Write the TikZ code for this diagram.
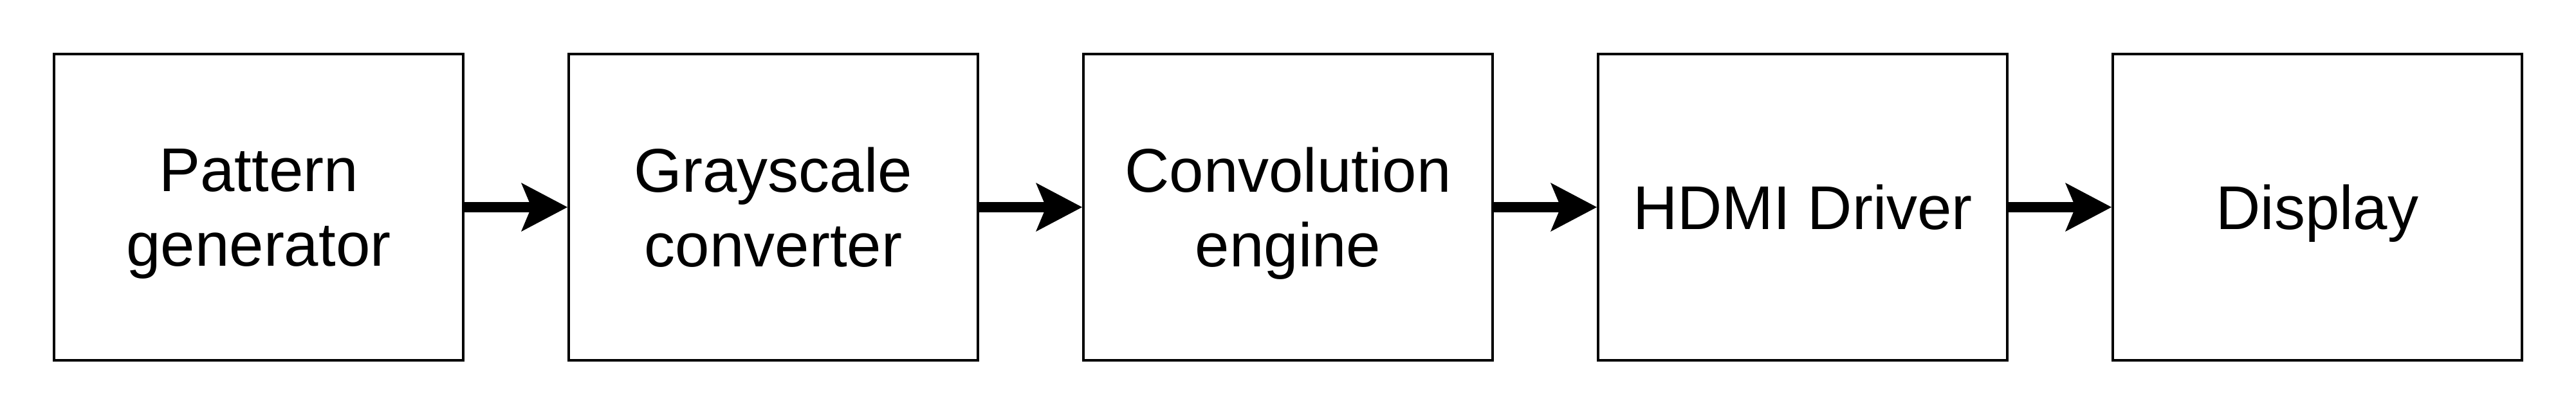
\documentclass[tikz,border=0pt]{standalone}
\usepackage{fontspec}
\setmainfont{Liberation Sans}
\usetikzlibrary{positioning,arrows.meta}

\begin{document}
\begin{tikzpicture}[node distance={40pt}]
	\tikzstyle{blk}=[draw, line width=1pt, minimum width=159pt, minimum height=119pt, align=center, text depth=0pt, font=\fontsize{24}{29}\selectfont]
	\tikzstyle{arr}=[line width=4pt, -{Stealth[length=18pt, width=19pt, inset=4pt, line width=0pt]}]

	\useasboundingbox (0,0) rectangle (1001pt,161pt);

	\node[blk] (pat) at (100.5pt,80.5pt) {Pattern\\generator};
	\node[blk] (gray) [right=of pat] {Grayscale\\converter};
	\node[blk] (conv) [right=of gray] {Convolution\\engine};
	\node[blk] (hdmi) [right=of conv] {HDMI Driver};
	\node[blk] (disp) [right=of hdmi] {Display};

	\foreach \from/\to in {pat/gray,gray/conv,conv/hdmi,hdmi/disp}
	\draw [arr] (\from) -- (\to);
\end{tikzpicture}
\end{document}
